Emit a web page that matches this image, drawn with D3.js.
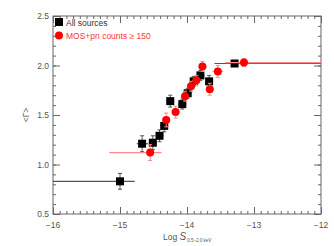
<!DOCTYPE html>
<html>
<head>
<meta charset="utf-8">
<script src="https://cdn.jsdelivr.net/npm/d3@7"></script>
<style>
  body { margin: 0; background: #fff; }
  text { font-family: "Liberation Sans", Arial, sans-serif; }
</style>
</head>
<body>
<div id="chart"></div>
<script>
//all sources: log flux, <Gamma>, y error, x error lo/hi
const allX    = [-15.0, -14.67, -14.51, -14.41, -14.34, -14.25, -14.07, -13.99, -13.90, -13.80, -13.67, -13.29]
const allY    = [0.83, 1.21, 1.22, 1.29, 1.39, 1.64, 1.61, 1.72, 1.84, 1.90, 1.84, 2.02]
const allErr  = [0.08, 0.08, 0.07, 0.06, 0.06, 0.06, 0.05, 0.05, 0.05, 0.05, 0.06, 0.03]
const allXlo  = [-16.0, -14.75, -14.57, -14.47, -14.40, -14.31, -14.13, -14.05, -13.96, -13.86, -13.73, -13.59]
const allXhi  = [-14.78, -14.58, -14.45, -14.35, -14.28, -14.19, -14.01, -13.93, -13.84, -13.74, -13.61, -12.0]

//MOS+pn counts >= 150
const redX    = [-14.55, -14.31, -14.17, -14.03, -13.94, -13.86, -13.77, -13.66, -13.54, -13.15]
const redY    = [1.12, 1.45, 1.53, 1.69, 1.79, 1.85, 1.99, 1.76, 1.94, 2.03]
const redErr  = [0.08, 0.07, 0.06, 0.05, 0.05, 0.05, 0.05, 0.06, 0.06, 0.04]
const redXlo  = [-15.16, -14.37, -14.23, -14.09, -14.00, -13.92, -13.83, -13.72, -13.62, -13.43]
const redXhi  = [-14.38, -14.25, -14.11, -13.97, -13.88, -13.80, -13.71, -13.60, -13.46, -12.0]

const xTicks = [-16, -15, -14, -13, -12]
const yTicks = [0.5, 1.0, 1.5, 2.0, 2.5]

//set the dimensions and margins of the graph
const margin = {top: 16, right: 13, bottom: 32, left: 53},
  width = 334 - margin.left - margin.right,
  height = 246 - margin.top - margin.bottom;

const svg = d3.select("#chart")
.append("svg")
  .attr("width", 334)
  .attr("height", 246)
.append("g")
  .attr("transform", `translate(${margin.left}, ${margin.top})`);

const x = d3.scaleLinear().domain([-16, -12]).range([0, width])
const y = d3.scaleLinear().domain([0.5, 2.5]).range([height, 0])

const axisCol = "#666"
const minorX = d3.range(-16, -12.0001, 0.1)
const minorY = d3.range(0.5, 2.5001, 0.1)

//ticks on all four sides
function drawAxis(axis, ticks, size, transform) {
  const g = svg.append("g")
    .attr("transform", transform)
    .call(axis.tickValues(ticks).tickSize(size).tickFormat(""))
  g.select(".domain").remove()
  g.selectAll("line").attr("stroke", axisCol)
  return g
}
drawAxis(d3.axisBottom(x), minorX, -3, `translate(0, ${height})`)
drawAxis(d3.axisBottom(x), xTicks, -7, `translate(0, ${height})`)
drawAxis(d3.axisTop(x), minorX, -3, `translate(0, 0)`)
drawAxis(d3.axisTop(x), xTicks, -7, `translate(0, 0)`)
drawAxis(d3.axisLeft(y), minorY, -3, `translate(0, 0)`)
drawAxis(d3.axisLeft(y), yTicks, -7, `translate(0, 0)`)
drawAxis(d3.axisRight(y), minorY, -3, `translate(${width}, 0)`)
drawAxis(d3.axisRight(y), yTicks, -7, `translate(${width}, 0)`)

svg.append("rect")
  .attr("width", width).attr("height", height)
  .attr("fill", "none").attr("stroke", axisCol).attr("stroke-width", 1)

//tick labels
svg.selectAll(".xl").data(xTicks).join("text")
  .attr("x", d => x(d)).attr("y", height + 14)
  .attr("text-anchor", "middle").attr("font-size", 8.5).attr("fill", "#555")
  .text(d => "\u2212" + Math.abs(d))
svg.selectAll(".yl").data(yTicks).join("text")
  .attr("x", -4).attr("y", d => y(d) + 3)
  .attr("text-anchor", "end").attr("font-size", 8.5).attr("fill", "#555")
  .text(d => d.toFixed(1))

//axis titles
const xt = svg.append("text")
  .attr("x", 110).attr("y", height + 26)
  .attr("font-size", 8.5).attr("fill", "#555")
xt.append("tspan").text("Log ")
xt.append("tspan").attr("font-style", "italic").attr("font-size", 10).text("S")
xt.append("tspan").attr("font-size", 4.5).attr("dy", 2).attr("dx", 1).text("0.5\u22122.0 keV")

svg.append("text")
  .attr("transform", `translate(-24, ${y(1.5)}) rotate(-90)`)
  .attr("text-anchor", "middle").attr("font-size", 8.5).attr("fill", "#555")
  .text("<\u0393>")

//error bars + markers
function drawSeries(xs, ys, errs, xlo, xhi, col, barCol) {
  const data = xs.map((d, i) => ({x: d, y: ys[i], e: errs[i], lo: xlo[i], hi: xhi[i]}))
  const g = svg.append("g")
  g.selectAll(".h").data(data).join("line")
    .attr("x1", d => x(d.lo)).attr("x2", d => x(d.hi))
    .attr("y1", d => y(d.y)).attr("y2", d => y(d.y))
    .attr("stroke", barCol).attr("stroke-width", 1.2)
  g.selectAll(".v").data(data).join("line")
    .attr("x1", d => x(d.x)).attr("x2", d => x(d.x))
    .attr("y1", d => y(d.y - d.e)).attr("y2", d => y(d.y + d.e))
    .attr("stroke", barCol).attr("stroke-width", 1)
  ;[-1, 1].forEach(s => {
    g.selectAll(".c" + s).data(data).join("line")
      .attr("x1", d => x(d.x) - 2).attr("x2", d => x(d.x) + 2)
      .attr("y1", d => y(d.y + s * d.e)).attr("y2", d => y(d.y + s * d.e))
      .attr("stroke", barCol).attr("stroke-width", 1)
  })
  return g
}

const gAll = drawSeries(allX, allY, allErr, allXlo, allXhi, "#000", "#555")
const gRed = drawSeries(redX, redY, redErr, redXlo, redXhi, "#f00", "#f88")

gAll.selectAll("rect").data(allX.map((d, i) => [d, allY[i]])).join("rect")
  .attr("x", d => x(d[0]) - 4).attr("y", d => y(d[1]) - 4)
  .attr("width", 8).attr("height", 8).attr("fill", "#000")
gRed.selectAll("circle").data(redX.map((d, i) => [d, redY[i]])).join("circle")
  .attr("cx", d => x(d[0])).attr("cy", d => y(d[1]))
  .attr("r", 4).attr("fill", "#f00")

//legend
svg.append("rect").attr("x", 2).attr("y", 2).attr("width", 8).attr("height", 8).attr("fill", "#000")
svg.append("text").attr("x", 13).attr("y", 9.5).attr("font-size", 8.5).attr("fill", "#333").text("All sources")
svg.append("circle").attr("cx", 6).attr("cy", 19.5).attr("r", 4).attr("fill", "#f00")
svg.append("text").attr("x", 13).attr("y", 22.5).attr("font-size", 8.5).attr("fill", "#f33").text("MOS+pn  counts  \u2265 150")
</script>
</body>
</html>
